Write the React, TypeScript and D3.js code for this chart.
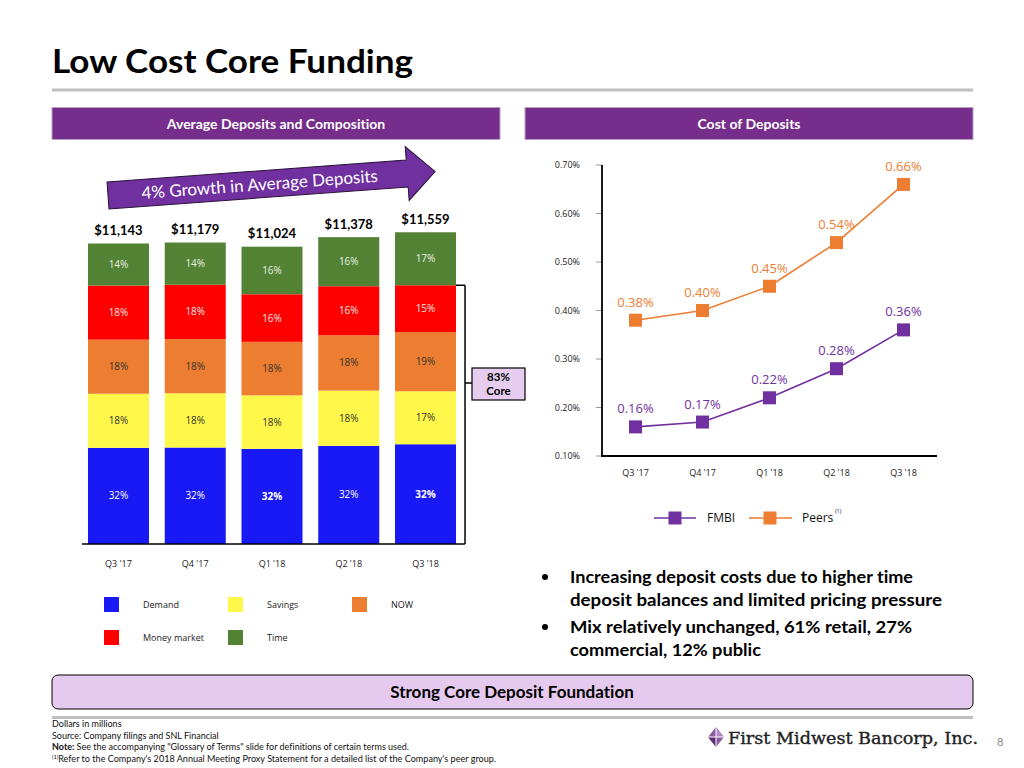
import React from "react";
import * as d3 from "d3";

// ---------- DATA ----------
const quarters = ["Q3 '17", "Q4 '17", "Q1 '18", "Q2 '18", "Q3 '18"];
const totals = [11143, 11179, 11024, 11378, 11559];
const totalLabels = ["$11,143", "$11,179", "$11,024", "$11,378", "$11,559"];
const segNames = ["Demand", "Savings", "NOW", "Money market", "Time"];
const demandPct = [32, 32, 32, 32, 32];
const savingsPct = [18, 18, 18, 18, 17];
const nowPct = [18, 18, 18, 18, 19];
const moneyMarketPct = [18, 18, 16, 16, 15];
const timePct = [14, 14, 16, 16, 17];
const boldDemand = [false, false, true, false, true];

const fmbi = [0.16, 0.17, 0.22, 0.28, 0.36];
const peers = [0.38, 0.40, 0.45, 0.54, 0.66];
const costTicks = [0.1, 0.2, 0.3, 0.4, 0.5, 0.6, 0.7];

const bullets = [
  ["Increasing deposit costs due to higher time", "deposit balances and limited pricing pressure"],
  ["Mix relatively unchanged, 61% retail, 27%", "commercial, 12% public"],
];
const footnotes = [
  "Dollars in millions",
  "Source: Company filings and SNL Financial",
];

// ---------- STYLE ----------
const segColors = ["#1919F5", "#FFF84A", "#ED7D31", "#FF0000", "#548235"];
const segTextColors = ["#FFFFFF", "#333333", "#333333", "#FBE3E3", "#E8F0E0"];
const PURPLE = "#762D8B";
const FMBI_C = "#7030A0";
const PEERS_C = "#ED7D31";
const FONT = "Lato, 'Open Sans', sans-serif";
const AXFONT = "'Open Sans', sans-serif";

export default function App() {
  // Left stacked chart
  const xL = d3.scaleBand<string>().domain(quarters).range([80.3, 463.7]).paddingInner(0.205).paddingOuter(0.1);
  const yL = d3.scaleLinear().domain([0, 12000]).range([544, 544 - 12000 / 37.08]);
  const pctSeries = [demandPct, savingsPct, nowPct, moneyMarketPct, timePct];
  const rows = quarters.map((q, i) => {
    const r: any = { q };
    segNames.forEach((n, k) => (r[n] = (pctSeries[k][i] * totals[i]) / 100));
    return r;
  });
  const stacked = d3.stack<any>().keys(segNames)(rows);

  // Right line chart
  const xR = d3.scaleBand<string>().domain(quarters).range([602, 937]);
  const xc = (q: string) => (xR(q) as number) + xR.bandwidth() / 2;
  const yR = d3.scaleLinear().domain([0.1, 0.7]).range([456, 165]);
  const line = d3.line<number>().x((_, i) => xc(quarters[i])).y((d) => yR(d));
  const fmt = (v: number) => v.toFixed(2) + "%";

  const lastQ = quarters[quarters.length - 1];
  const lastBarRight = (xL(lastQ) as number) + xL.bandwidth();
  const mmTop = yL(stacked[3][4][1]);
  const bracketX = lastBarRight + 9;

  // arrow geometry (local coordinates, then rotated)
  const arrowPts = [
    [0, -13.5], [300, -13.5], [300, -27], [328, 0], [300, 27], [300, 13.5], [0, 13.5],
  ];

  const ms = 13;

  return (
    <svg width={1024} height={768} style={{ position: "absolute", left: 0, top: 0, background: "#fff", fontVariantLigatures: "none" }} fontFamily={FONT}>
      {/* Title */}
      <text x={52} y={73} fontSize={32} fontWeight={700} fill="#000" textLength={361} lengthAdjust="spacingAndGlyphs">
        Low Cost Core Funding
      </text>
      <rect x={52} y={88.5} width={921} height={3} fill="#BFBFBF" />

      {/* Header bars */}
      <rect x={52} y={107.5} width={448} height={32} fill={PURPLE} stroke="#B9A3C4" strokeWidth={1} />
      <text x={276} y={128.5} textAnchor="middle" fill="#fff" fontSize={14} fontWeight={700}>
        Average Deposits and Composition
      </text>
      <rect x={525} y={107.5} width={448} height={32} fill={PURPLE} stroke="#B9A3C4" strokeWidth={1} />
      <text x={749} y={128.5} textAnchor="middle" fill="#fff" fontSize={14} fontWeight={700}>
        Cost of Deposits
      </text>

      {/* Growth arrow */}
      <g transform="translate(108,195.5) rotate(-4.2)">
        <polygon points={arrowPts.map((p) => p.join(",")).join(" ")} fill={FMBI_C} stroke="#2B1236" strokeWidth={1} />
        <text x={152} y={6} textAnchor="middle" fill="#fff" fontSize={17}>
          4% Growth in Average Deposits
        </text>
      </g>

      {/* Stacked bars */}
      {stacked.map((layer, k) =>
        layer.map((d, i) => {
          const x = xL(quarters[i]) as number;
          const y0 = yL(d[1]);
          const y1 = yL(d[0]);
          return (
            <g key={`s${k}-${i}`}>
              <rect x={x} y={y0} width={xL.bandwidth()} height={y1 - y0} fill={segColors[k]} />
              <text
                x={x + xL.bandwidth() / 2}
                y={(y0 + y1) / 2 + 3.5}
                textAnchor="middle"
                fontSize={10}
                fontFamily={AXFONT}
                fontWeight={k === 0 && boldDemand[i] ? 700 : 400}
                fill={segTextColors[k]}
              >
                {pctSeries[k][i]}%
              </text>
            </g>
          );
        })
      )}
      {quarters.map((q, i) => (
        <text key={`t${i}`} x={(xL(q) as number) + xL.bandwidth() / 2} y={yL(totals[i]) - 8.5} textAnchor="middle" fontSize={13} fontWeight={700} fill="#000">
          {totalLabels[i]}
        </text>
      ))}
      <line x1={82} x2={bracketX} y1={544} y2={544} stroke="#000" strokeWidth={1.5} />
      {quarters.map((q) => (
        <text key={`xl${q}`} x={(xL(q) as number) + xL.bandwidth() / 2} y={566.5} textAnchor="middle" fontSize={9} fontFamily={AXFONT} fill="#222">
          {q}
        </text>
      ))}

      {/* Core bracket */}
      <line x1={lastBarRight} x2={bracketX} y1={mmTop} y2={mmTop} stroke="#000" strokeWidth={1.5} />
      <line x1={bracketX} x2={bracketX} y1={mmTop} y2={544} stroke="#000" strokeWidth={1.5} />
      <line x1={bracketX} x2={472} y1={383} y2={383} stroke="#000" strokeWidth={1.5} />
      <rect x={472} y={368} width={53} height={32} fill="#E6CDEF" stroke="#000" strokeWidth={1.2} />
      <text x={498.5} y={381} textAnchor="middle" fontSize={11.5} fontWeight={700}>83%</text>
      <text x={498.5} y={395} textAnchor="middle" fontSize={11.5} fontWeight={700}>Core</text>

      {/* Left legend */}
      {segNames.map((n, k) => {
        const col = k < 3 ? k : k - 3;
        const row = k < 3 ? 0 : 1;
        const x = 104 + col * 124;
        const y = 597 + row * 33;
        return (
          <g key={`lg${n}`}>
            <rect x={x} y={y} width={15} height={15} fill={segColors[k]} />
            <text x={x + 39} y={y + 10.5} fontSize={9} fontFamily={AXFONT} fill="#222">{n}</text>
          </g>
        );
      })}

      {/* Right chart axes */}
      {costTicks.map((t) => (
        <g key={`yt${t}`}>
          <line x1={596} x2={602} y1={yR(t)} y2={yR(t)} stroke="#999" strokeWidth={1} />
          <text x={580} y={yR(t) + 3} textAnchor="end" fontSize={9} fontFamily={AXFONT} fill="#222">
            {t.toFixed(2)}%
          </text>
        </g>
      ))}
      <line x1={602} x2={602} y1={yR(0.7)} y2={457} stroke="#000" strokeWidth={1.8} />
      <line x1={601} x2={937} y1={456} y2={456} stroke="#000" strokeWidth={1.8} />
      {quarters.map((q) => (
        <text key={`xr${q}`} x={xc(q)} y={476} textAnchor="middle" fontSize={9} fontFamily={AXFONT} fill="#222">
          {q}
        </text>
      ))}

      {/* Lines */}
      {[
        { vals: peers, c: PEERS_C },
        { vals: fmbi, c: FMBI_C },
      ].map((s, si) => (
        <g key={`ln${si}`}>
          <path d={line(s.vals) as string} fill="none" stroke={s.c} strokeWidth={1.6} />
          {s.vals.map((v, i) => (
            <g key={`m${si}-${i}`}>
              <rect x={xc(quarters[i]) - ms / 2} y={yR(v) - ms / 2} width={ms} height={ms} fill={s.c} />
              <text x={xc(quarters[i])} y={yR(v) - 13.5} textAnchor="middle" fontSize={13} fontFamily={AXFONT} fill={s.c}>
                {fmt(v)}
              </text>
            </g>
          ))}
        </g>
      ))}

      {/* Right legend */}
      <line x1={654} x2={696} y1={518} y2={518} stroke={FMBI_C} strokeWidth={1.6} />
      <rect x={675 - ms / 2} y={518 - ms / 2} width={ms} height={ms} fill={FMBI_C} />
      <text x={707} y={522} fontSize={12} fontFamily={AXFONT} fill="#111">FMBI</text>
      <line x1={749} x2={792} y1={518} y2={518} stroke={PEERS_C} strokeWidth={1.6} />
      <rect x={770 - ms / 2} y={518 - ms / 2} width={ms} height={ms} fill={PEERS_C} />
      <text x={802} y={522} fontSize={12} fontFamily={AXFONT} fill="#111">Peers</text>
      <text x={835} y={513} fontSize={5.5} fontFamily={AXFONT} fill="#111">(1)</text>

      {/* Bullets */}
      {bullets.map((b, bi) => (
        <g key={`b${bi}`}>
          <circle cx={545} cy={577 + bi * 50} r={3} fill="#000" />
          {b.map((ln, li) => (
            <text key={`bl${li}`} x={570} y={583 + bi * 50 + li * 23} fontSize={17.5} fontWeight={700} fill="#000"
              textLength={[[343, 372], [342, 191]][bi][li]} lengthAdjust="spacingAndGlyphs">
              {ln}
            </text>
          ))}
        </g>
      ))}

      {/* Footer box */}
      <rect x={52} y={675} width={921} height={34} rx={6} fill="#E6C9EE" stroke="#000" strokeWidth={1} />
      <text x={512} y={698} textAnchor="middle" fontSize={17} fontWeight={700} fill="#000">
        Strong Core Deposit Foundation
      </text>
      <rect x={52} y={716} width={921} height={3} fill="#BFBFBF" />

      {/* Footnotes */}
      {footnotes.map((f, i) => (
        <text key={`fn${i}`} x={52} y={727 + i * 11.5} fontSize={9} fill="#111">{f}</text>
      ))}
      <text x={52} y={750} fontSize={9} fill="#111">
        <tspan fontWeight={700}>Note:</tspan> See the accompanying "Glossary of Terms" slide for definitions of certain terms used.
      </text>
      <text x={52} y={761.5} fontSize={9} fill="#111" textLength={444} lengthAdjust="spacingAndGlyphs">
        <tspan fontSize={5.5} dy={-3}>(1)</tspan>
        <tspan dy={3}>Refer to the Company's 2018 Annual Meeting Proxy Statement for a detailed list of the Company's peer group.</tspan>
      </text>

      {/* Logo */}
      <g transform="translate(716,737)">
        <polygon points="0,-10 8,0 0,10 -8,0" fill="#8A5A9E" />
        <polygon points="0,-10 8,0 0,0" fill="#B38BC4" />
        <polygon points="-8,0 0,10 0,0" fill="#5E2D73" />
        <line x1={-8} x2={8} y1={0} y2={0} stroke="#fff" strokeWidth={1} />
        <line x1={0} x2={0} y1={-10} y2={10} stroke="#fff" strokeWidth={1} />
      </g>
      <text x={728} y={744} fontSize={16} fontFamily="'DejaVu Serif', serif" fill="#222" stroke="#222" strokeWidth={0.35} textLength={250} lengthAdjust="spacingAndGlyphs">
        First Midwest Bancorp, Inc.
      </text>
      <text x={997} y={746} fontSize={11} fill="#888">8</text>
    </svg>
  );
}
